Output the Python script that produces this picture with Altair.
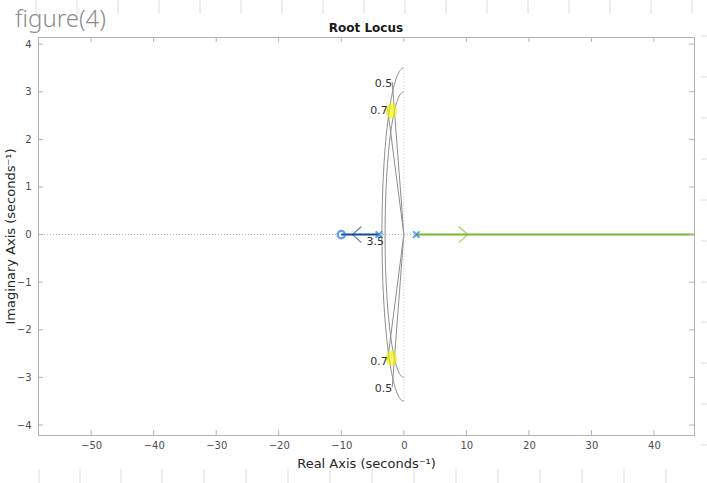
import altair as alt
import numpy as np
import pandas as pd

# Open-loop poles and zero on the real axis
pole_re = [-4.0, 2.0]
zero_re = [-10.0]

# Locus branches (start -> end) and the arrow position on each
branch_name = ["left", "right"]
branch_start = [-4.0, 2.0]
branch_end = [-10.0, 60.0]
arrow_re = [-7.5, 9.5]
arrow_shape = ["M0.55,-1L-0.55,0L0.55,1", "M-0.55,-1L0.55,0L-0.55,1"]
branch_color = ["#0f4a9e", "#77b82e"]

# s-plane grid: damping ratios and natural frequencies
zeta_vals = [0.5, 0.7]
wn_vals = [3.0, 3.5]
ray_len = 3.7

# Highlighted closed-loop pole pair
sel_re = [-2.0, -2.0]
sel_im = [2.6, -2.6]

x_ticks = [-50, -40, -30, -20, -10, 0, 10, 20, 30, 40]
y_ticks = [-4, -3, -2, -1, 0, 1, 2, 3, 4]
x_dom = [-58.5, 46.4]
y_dom = [-4.21, 4.15]

# faint ruling marks around the page border (pixel offsets from the plot corner)
page_top_x = [-2, 39, 80, 121, 162, 203, 244, 285, 326, 367, 408, 449, 490, 531, 572, 613, 654]
page_bot_x = [1, 42, 83, 124, 166, 208, 250, 292, 334, 376, 418, 460, 502, 544, 586, 628, 670]
page_right_y = [-1, 40, 81, 122, 163, 204, 245, 285, 326, 367, 408]

W, H = 656, 398
FONT = "DejaVu Sans"
GRID = "#8e8e8e"
AX = "#b3b3b3"

xs = alt.Scale(domain=x_dom, nice=False, zero=False)
ys = alt.Scale(domain=y_dom, nice=False, zero=False)

# ---- grid curves: constant-wn arcs and constant-zeta rays ----
rows = []
for wn in wn_vals:
    for i, phi in enumerate(np.linspace(np.pi / 2, 3 * np.pi / 2, 91)):
        rows.append({"id": f"wn{wn}", "k": i, "re": wn * np.cos(phi), "im": wn * np.sin(phi)})
ray_labels = []
for z in zeta_vals:
    for sgn in (1, -1):
        end_re = -ray_len * z
        end_im = sgn * ray_len * np.sqrt(1 - z * z)
        rows.append({"id": f"z{z}{sgn}", "k": 0, "re": 0.0, "im": 0.0})
        rows.append({"id": f"z{z}{sgn}", "k": 1, "re": end_re, "im": end_im})
        ray_labels.append({"re": end_re, "im": end_im, "txt": f"{z}"})
grid_df = pd.DataFrame(rows)

grid = alt.Chart(grid_df).mark_line(color=GRID, strokeWidth=1, clip=True).encode(
    x=alt.X("re:Q", scale=xs), y=alt.Y("im:Q", scale=ys), detail="id:N", order="k:Q"
)
zeta_text = alt.Chart(pd.DataFrame(ray_labels)).mark_text(
    align="right", baseline="middle", dx=0, dy=2, font=FONT, fontSize=11, color="#333333"
).encode(x=alt.X("re:Q", scale=xs), y=alt.Y("im:Q", scale=ys), text="txt:N")
wn_text = alt.Chart(pd.DataFrame({"re": [-wn_vals[1]], "im": [0.0], "txt": [str(wn_vals[1])]})).mark_text(
    align="right", baseline="top", dx=2, dy=1, font=FONT, fontSize=11, color="#333333"
).encode(x=alt.X("re:Q", scale=xs), y=alt.Y("im:Q", scale=ys), text="txt:N")

# ---- dotted zero lines ----
hzero = alt.Chart(pd.DataFrame({"a": [x_dom[0]], "b": [x_dom[1]], "im": [0.0]})).mark_rule(
    color="#b5b5b5", strokeDash=[1, 2], strokeWidth=1
).encode(x=alt.X("a:Q", scale=xs), x2="b:Q", y=alt.Y("im:Q", scale=ys))
vzero = alt.Chart(pd.DataFrame({"re": [0.0], "a": [-wn_vals[1]], "b": [wn_vals[1]]})).mark_rule(
    color="#c5c5c5", strokeDash=[1, 2], strokeWidth=1
).encode(x=alt.X("re:Q", scale=xs), y=alt.Y("a:Q", scale=ys), y2="b:Q")

# ---- highlighted poles ----
sel = alt.Chart(pd.DataFrame({"re": sel_re, "im": sel_im})).mark_point(
    shape="M0,-1A0.72,1 0 1,1 0,1A0.72,1 0 1,1 0,-1Z", filled=True, size=240,
    color="#f2f200", opacity=0.65
).encode(x=alt.X("re:Q", scale=xs), y=alt.Y("im:Q", scale=ys))

# ---- locus branches ----
br_df = pd.DataFrame({"name": branch_name, "s": branch_start, "e": branch_end,
                      "im": [0.0, 0.0], "col": branch_color})
branches = alt.Chart(br_df).mark_rule(strokeWidth=2, clip=True).encode(
    x=alt.X("s:Q", scale=xs), x2="e:Q", y=alt.Y("im:Q", scale=ys),
    color=alt.Color("col:N", scale=None)
)
arrow_layers = []
for re_, shp, col in zip(arrow_re, arrow_shape, branch_color):
    arrow_layers.append(
        alt.Chart(pd.DataFrame({"re": [re_], "im": [0.0]})).mark_point(
            shape=shp, filled=False, size=260, strokeWidth=1.2, color=col
        ).encode(x=alt.X("re:Q", scale=xs), y=alt.Y("im:Q", scale=ys))
    )

poles = alt.Chart(pd.DataFrame({"re": pole_re, "im": [0.0, 0.0]})).mark_point(
    shape="M-1,-1L1,1M1,-1L-1,1", filled=False, size=40, strokeWidth=2, color="#1a78e0"
).encode(x=alt.X("re:Q", scale=xs), y=alt.Y("im:Q", scale=ys))
zeros = alt.Chart(pd.DataFrame({"re": zero_re, "im": [0.0]})).mark_point(
    shape="circle", filled=False, size=55, strokeWidth=2.2, color="#1a78e0"
).encode(x=alt.X("re:Q", scale=xs), y=alt.Y("im:Q", scale=ys))

# ---- inward ticks on all four sides ----
xt = pd.DataFrame({"v": x_ticks})
yt = pd.DataFrame({"v": y_ticks})
tk = dict(color=AX, strokeWidth=1)
tick_b = alt.Chart(xt).mark_rule(**tk).encode(x=alt.X("v:Q", scale=xs), y=alt.value(H), y2=alt.value(H - 5))
tick_t = alt.Chart(xt).mark_rule(**tk).encode(x=alt.X("v:Q", scale=xs), y=alt.value(0), y2=alt.value(5))
tick_l = alt.Chart(yt).mark_rule(**tk).encode(y=alt.Y("v:Q", scale=ys), x=alt.value(0), x2=alt.value(5))
tick_r = alt.Chart(yt).mark_rule(**tk).encode(y=alt.Y("v:Q", scale=ys), x=alt.value(W), x2=alt.value(W - 5))

# ---- page ruling ----
pr = dict(color="#dedede", strokeWidth=1)
page_t = alt.Chart(pd.DataFrame({"p": page_top_x})).mark_rule(**pr).encode(
    x=alt.X("p:Q", scale=None), y=alt.value(-37), y2=alt.value(-23))
page_b = alt.Chart(pd.DataFrame({"p": page_bot_x})).mark_rule(**pr).encode(
    x=alt.X("p:Q", scale=None), y=alt.value(H + 34), y2=alt.value(H + 48))
page_r = alt.Chart(pd.DataFrame({"p": page_right_y})).mark_rule(**pr).encode(
    y=alt.Y("p:Q", scale=None), x=alt.value(W + 7), x2=alt.value(W + 13))

# ---- axes carrier ----
axes = alt.Chart(pd.DataFrame({"re": [0.0], "im": [0.0]})).mark_point(opacity=0).encode(
    x=alt.X("re:Q", scale=xs, title="Real Axis (seconds⁻¹)",
            axis=alt.Axis(values=x_ticks, tickSize=0, labelPadding=5, titlePadding=7, grid=False)),
    y=alt.Y("im:Q", scale=ys, title="Imaginary Axis (seconds⁻¹)",
            axis=alt.Axis(values=y_ticks, tickSize=0, labelPadding=7, titlePadding=-1, grid=False)),
)

title = alt.Chart(pd.DataFrame({"t": ["Root Locus"]})).mark_text(
    align="center", baseline="alphabetic", font=FONT, fontSize=12, fontWeight="bold", color="#1a1a1a"
).encode(x=alt.value(W / 2), y=alt.value(-5), text="t:N")

note = alt.Chart(pd.DataFrame({"t": ["figure(4)"]})).mark_text(
    align="left", baseline="alphabetic", font="Noto Sans", fontWeight=300, fontSize=24,
    color="#8c8c8c"
).encode(x=alt.value(-23), y=alt.value(-10), text="t:N")

chart = alt.layer(
    page_t, page_b, page_r,
    axes, grid, hzero, vzero, sel, zeta_text, wn_text, branches, *arrow_layers, poles, zeros,
    tick_b, tick_t, tick_l, tick_r, title, note
).properties(
    width=W, height=H,
    background="white",
    padding={"left": 38, "top": 37, "right": 13, "bottom": 48},
    autosize=alt.AutoSizeParams(type="none"),
).configure_view(stroke=AX, strokeWidth=1).configure_axis(
    domainColor=AX, labelFont=FONT, labelFontSize=10, labelColor="#4d4d4d",
    titleFont=FONT, titleFontSize=13, titleFontWeight="normal", titleColor="#262626"
)

chart.save("out.html", embed_options={"renderer": "svg", "actions": False})
